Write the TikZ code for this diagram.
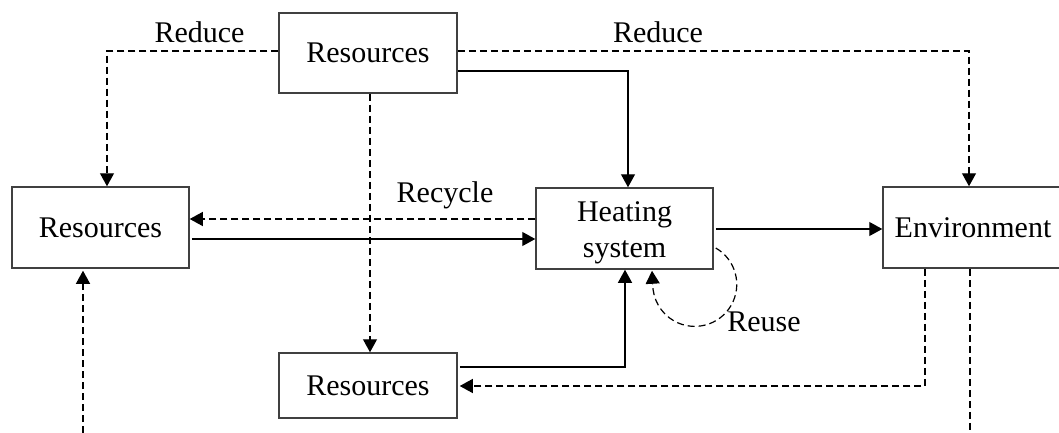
\documentclass[tikz,border=0pt]{standalone}
\usepackage{fontspec}
\setmainfont{Liberation Serif}
\usetikzlibrary{arrows.meta}

\tikzset{
  box/.style={draw=black!75, line width=0.75pt, rectangle, inner sep=0pt,
              font=\fontsize{15}{18}\selectfont, align=center},
  lbl/.style={inner sep=0pt, font=\fontsize{15}{18}\selectfont},
  conn/.style={line width=0.6pt, -{Triangle[length=6.5pt,width=7pt]}},
  sline/.style={conn},
  dline/.style={conn, dash pattern=on 3.5pt off 2pt},
  dplain/.style={line width=0.6pt, dash pattern=on 3.5pt off 2pt},
}

\begin{document}
\begin{tikzpicture}[x=0.5pt, y=-0.5pt]
\useasboundingbox (0,0) rectangle (1059,433);
\clip (0,0) rectangle (1059,433);

% boxes
\node[box, minimum width=89pt, minimum height=40pt] (top)  at (368,53)     {Resources};
\node[box, minimum width=88.5pt, minimum height=40.5pt] (left) at (100.5,227.5) {Resources};
\node[box, minimum width=88.5pt, minimum height=40.5pt] (heat) at (624.5,228.5) {\rule{0pt}{14.5pt}Heating\\system};
\node[box, minimum width=90pt, minimum height=40.5pt] (env)  at (973,227.5)  {Environment};
\node[box, minimum width=89pt, minimum height=32.5pt] (bot)  at (368,385.5)  {Resources};

% labels
\node[lbl] (reduceL) at (199.5,32) {Reduce};
\node[lbl] (reduceR) at (658,32)   {Reduce};
\node[lbl] (recycle) at (445,195)  {Recycle};
\node[lbl] (reuse)   at (764,322)  {Reuse};

% free ends at the lower edge
\coordinate (envout) at (970,433);
\coordinate (leftin) at (83,433);

% connectors
\draw[dline] ([yshift=1pt]top.west) -| ([xshift=3.25pt]left.north);
\draw[dline] ([yshift=1pt]top.east) -| ([xshift=-2pt]env.north);
\draw[sline] ([yshift=-9pt]top.east) -| ([xshift=1.75pt]heat.north);
\draw[dline] ([xshift=1pt]top.south) -- ([xshift=1pt]bot.north);
\draw[dline] ([yshift=4.75pt]heat.west) -- ([yshift=4.25pt]left.east);
\draw[sline] ([yshift=-5.75pt,xshift=1pt]left.east) -- ([yshift=-5.25pt]heat.west);
\draw[sline] ([yshift=-0.25pt,xshift=1pt]heat.east) -- ([yshift=-0.75pt]env.west);
\draw[sline] ([yshift=9.25pt,xshift=1pt]bot.east) -| ([xshift=0.25pt]heat.south);
\draw[dline] ([xshift=-24pt]env.south) |- ([yshift=-0.25pt,xshift=1pt]bot.east);
\draw[dplain] ([xshift=-1.5pt]env.south) -- (envout);
\draw[dline] (leftin) -- ([xshift=-8.75pt,yshift=-1pt]left.south);

% reuse loop
\draw[dline] ([yshift=-9.75pt,xshift=1pt]heat.east)
  arc[start angle=60, end angle=-180, radius=21pt]
  -- ([xshift=13.75pt,yshift=-0.5pt]heat.south);
\end{tikzpicture}
\end{document}
